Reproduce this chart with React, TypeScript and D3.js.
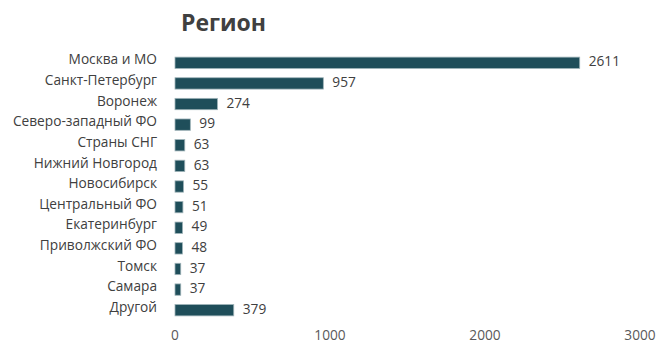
import * as d3 from 'd3'

const regions = [
  'Москва и МО',
  'Санкт-Петербург',
  'Воронеж',
  'Северо-западный ФО',
  'Страны СНГ',
  'Нижний Новгород',
  'Новосибирск',
  'Центральный ФО',
  'Екатеринбург',
  'Приволжский ФО',
  'Томск',
  'Самара',
  'Другой',
]
const counts = [2611, 957, 274, 99, 63, 63, 55, 51, 49, 48, 37, 37, 379]
const xTicks = [0, 1000, 2000, 3000]

const width = 664
const height = 352
const font = "'Open Sans', sans-serif"

export default function App() {
  const x = d3.scaleLinear().domain([0, 3000]).range([175, 640])
  const y = d3
    .scaleBand()
    .domain(regions)
    .range([53, 320])
    .paddingInner(0.45)
    .paddingOuter(0.2)

  const bw = y.bandwidth()

  return (
    <svg
      width={width}
      height={height}
      style={{ position: 'absolute', left: 0, top: 0, background: '#fff' }}
      fontFamily={font}
    >
      <text x={181} y={31} fontSize={23} fontWeight="bold" fill="#404040">
        Регион
      </text>
      {regions.map((r, i) => {
        const yc = y(r)! + bw / 2
        return (
          <g key={r}>
            <rect
              x={x(0)}
              y={y(r)}
              width={x(counts[i]) - x(0)}
              height={bw}
              fill="#1f4e5a"
              stroke="#9fb3b8"
              strokeWidth={0.8}
            />
            <text
              x={157}
              y={yc - 2}
              textAnchor="end"
              dominantBaseline="middle"
              fontSize={13.7}
              fill="#404040"
            >
              {r}
            </text>
            <text
              x={x(counts[i]) + 9}
              y={yc}
              dominantBaseline="middle"
              fontSize={13.7}
              fill="#404040"
            >
              {counts[i]}
            </text>
          </g>
        )
      })}
      {xTicks.map(t => (
        <text
          key={t}
          x={x(t)}
          y={340}
          textAnchor="middle"
          fontSize={13.7}
          fill="#595959"
        >
          {t}
        </text>
      ))}
    </svg>
  )
}
